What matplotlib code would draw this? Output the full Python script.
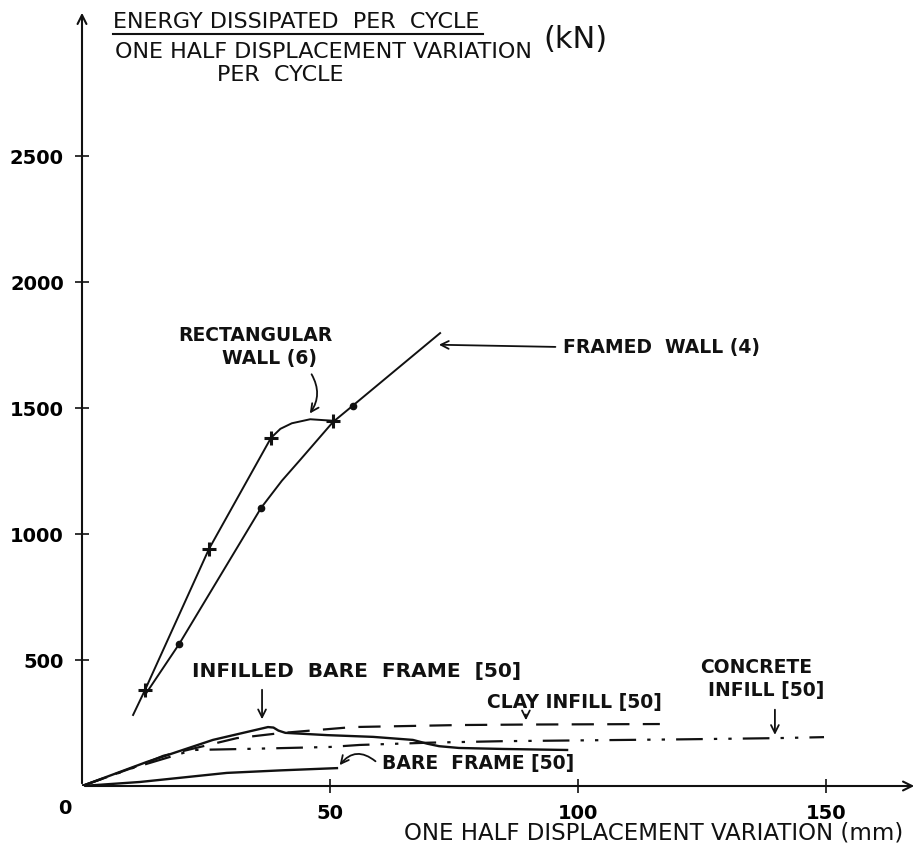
import matplotlib
matplotlib.use("Agg")
import matplotlib.pyplot as plt
from matplotlib.lines import Line2D

plt.rcParams['font.family'] = ['DejaVu Sans']

# ---- data (mm, kN) ----
rect_x = [10.3, 12.7, 25.6, 38.1, 40.0, 42.3, 46.0, 50.6]
rect_y = [282, 381, 941, 1382, 1418, 1440, 1456, 1450]
rect_mark_x = [12.7, 25.6, 38.1, 50.6]
rect_mark_y = [381, 941, 1382, 1450]

framed_x = [13.0, 19.6, 36.1, 40.3, 44.0, 50.6, 54.6, 72.2]
framed_y = [370, 564, 1104, 1212, 1295, 1445, 1510, 1798]
framed_mark_x = [19.6, 36.1, 54.6]
framed_mark_y = [564, 1104, 1510]

infilled_x = [0, 13, 26.4, 37.5, 38.6, 39.6, 41, 49.4, 58.7, 66.7, 69.6, 72, 76, 85, 97.8]
infilled_y = [0, 95, 183, 234, 232, 220, 211, 202, 195, 183, 168, 158, 151, 147, 143]

clay_x = [0, 12.4, 16.4, 31.2, 40, 54.6, 76, 90, 116.5]
clay_y = [0, 88, 120, 190, 210, 234, 242, 244, 246]

concrete_x = [0, 10, 22.4, 35, 50, 56, 70, 85, 100, 120, 140, 149.6]
concrete_y = [0, 70, 143, 148, 155, 163, 172, 178, 181, 185, 190, 194]

bare_x = [0, 11.7, 29.2, 40, 51.4]
bare_y = [0, 16, 52, 62, 71]

x_ticks = [50, 100, 150]
y_ticks = [500, 1000, 1500, 2000, 2500]

W, H = 920, 849
fig = plt.figure(figsize=(W / 100, H / 100), dpi=100)
ax = fig.add_axes([82 / W, (H - 786) / H, (917 - 82) / W, (786 - 10) / H])
ax.set_xlim(0, (917 - 82) / 4.96)
ax.set_ylim(0, (786 - 10) * 3.97)

for s in ax.spines.values():
    s.set_visible(False)

ink = '#111111'
lw = 1.4

# axes drawn as arrows
ax.annotate('', xy=(1, 0), xytext=(0, 0), xycoords='axes fraction',
            arrowprops=dict(arrowstyle='->', lw=1.5, color=ink, mutation_scale=16))
ax.annotate('', xy=(0, 1), xytext=(0, 0), xycoords='axes fraction',
            arrowprops=dict(arrowstyle='->', lw=1.5, color=ink, mutation_scale=16))

ax.set_xticks(x_ticks)
ax.set_xticklabels([str(v) for v in x_ticks])
ax.set_yticks(y_ticks)
ax.set_yticklabels([str(v) for v in y_ticks])
ax.tick_params(direction='inout', length=10, width=1.2, color=ink,
               labelsize=14, pad=8)
for lab in ax.get_xticklabels() + ax.get_yticklabels():
    lab.set_fontweight('bold')
ax.text(-3.4, -88, '0', ha='center', va='center', fontsize=14, fontweight='bold')

# curves
ax.plot(rect_x, rect_y, color=ink, lw=lw)
ax.plot(rect_mark_x, rect_mark_y, ls='none', marker='+', ms=10, mew=2.2, color=ink)
ax.plot(framed_x, framed_y, color=ink, lw=lw)
ax.plot(framed_mark_x, framed_mark_y, ls='none', marker='o', ms=4.5, color=ink)
ax.plot(infilled_x, infilled_y, color=ink, lw=1.7)
ax.plot(clay_x, clay_y, color=ink, lw=1.6, dashes=(10, 6))
ax.plot(concrete_x, concrete_y, color=ink, lw=1.6, dashes=(12, 5, 1.5, 5, 1.5, 5))
ax.plot(bare_x, bare_y, color=ink, lw=1.7)

lab = dict(fontsize=13.5, fontweight='bold', color=ink, va='center')
arr = dict(arrowstyle='->', lw=1.3, color=ink, mutation_scale=14)

ax.text(19.4, 1790, 'RECTANGULAR', ha='left', **lab)
ax.text(28.2, 1699, 'WALL (6)', ha='left', **lab)
ax.annotate('', xy=(45.6, 1470), xytext=(46.0, 1644),
            arrowprops=dict(connectionstyle='arc3,rad=-0.35', **arr))

ax.text(97.0, 1739, 'FRAMED  WALL (4)', ha='left', **lab)
ax.annotate('', xy=(71.4, 1752), xytext=(96.0, 1743), arrowprops=arr)

ax.text(22.2, 453, 'INFILLED  BARE  FRAME  [50]', ha='left',
        **dict(lab, fontsize=14.5))
ax.annotate('', xy=(36.3, 254), xytext=(36.3, 393), arrowprops=arr)

ax.text(81.7, 333, 'CLAY INFILL [50]', ha='left', **lab)
ax.annotate('', xy=(89.5, 250), xytext=(89.5, 295), arrowprops=arr)

ax.text(124.6, 472, 'CONCRETE', ha='left', **lab)
ax.text(126.2, 381, 'INFILL [50]', ha='left', **lab)
ax.annotate('', xy=(139.7, 192), xytext=(139.7, 314), arrowprops=arr)

ax.text(60.5, 91, 'BARE  FRAME [50]', ha='left', **lab)
ax.annotate('', xy=(51.6, 74), xytext=(59.6, 91),
            arrowprops=dict(connectionstyle='arc3,rad=0.55', **arr))

# axis titles
fig.text(654 / W, 1 - 833 / H, 'ONE HALF DISPLACEMENT VARIATION (mm)',
         ha='center', va='center', fontsize=16.5, color=ink)
t1 = fig.text(113 / W, 1 - 22 / H, 'ENERGY DISSIPATED  PER  CYCLE',
              ha='left', va='center', fontsize=16, color=ink)
t2 = fig.text(115 / W, 1 - 52 / H, 'ONE HALF DISPLACEMENT VARIATION',
              ha='left', va='center', fontsize=16, color=ink)
fig.text(280 / W, 1 - 75 / H, 'PER  CYCLE',
         ha='center', va='center', fontsize=16, color=ink)

renderer = fig.canvas.get_renderer()
bb1 = t1.get_window_extent(renderer)
bb2 = t2.get_window_extent(renderer)
fig.add_artist(Line2D([113 / W, (bb1.x1 + 4) / W], [1 - 34 / H] * 2, lw=1.5,
                      color=ink, transform=fig.transFigure))
fig.text((bb2.x1 + 12) / W, 1 - 40 / H, '(kN)', ha='left', va='center',
         fontsize=22, color=ink)

fig.savefig('out.png', dpi=100, facecolor='white')
